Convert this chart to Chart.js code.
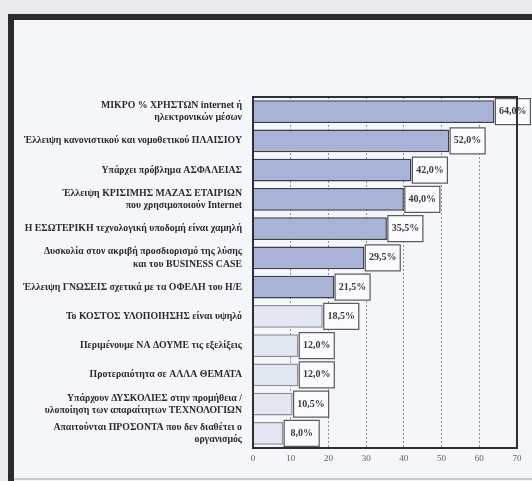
<!DOCTYPE html>
<html>
<head>
<meta charset="utf-8">
<script src="https://cdn.jsdelivr.net/npm/chart.js@4"></script>
<style>
  html, body { margin: 0; padding: 0; background: #e9ebef; }
  #wrap { position: relative; width: 532px; height: 481px; }
  #chart { position: absolute; left: 0; top: 0; }
</style>
</head>
<body>
<div id="wrap"><canvas id="chart" width="532" height="481"></canvas></div>
<script>
'use strict';

var categories = [
    ['ΜΙΚΡΟ % ΧΡΗΣΤΩΝ internet ή', 'ηλεκτρονικών μέσων'],
    'Έλλειψη κανονιστικού και νομοθετικού ΠΛΑΙΣΙΟΥ',
    'Υπάρχει πρόβλημα ΑΣΦΑΛΕΙΑΣ',
    ['Έλλειψη ΚΡΙΣΙΜΗΣ ΜΑΖΑΣ ΕΤΑΙΡΙΩΝ', 'που χρησιμοποιούν Internet'],
    'Η ΕΣΩΤΕΡΙΚΗ τεχνολογική υποδομή είναι χαμηλή',
    ['Δυσκολία στον ακριβή προσδιορισμό της λύσης', 'και του BUSINESS CASE'],
    'Έλλειψη ΓΝΩΣΕΙΣ σχετικά με τα ΟΦΕΛΗ του Η/Ε',
    'Το ΚΟΣΤΟΣ ΥΛΟΠΟΙΗΣΗΣ είναι υψηλό',
    'Περιμένουμε ΝΑ ΔΟΥΜΕ τις εξελίξεις',
    'Προτεραιότητα σε ΑΛΛΑ ΘΕΜΑΤΑ',
    ['Υπάρχουν ΔΥΣΚΟΛΙΕΣ στην προμήθεια /', 'υλοποίηση των απαραίτητων ΤΕΧΝΟΛΟΓΙΩΝ'],
    ['Απαιτούνται ΠΡΟΣΟΝΤΑ που δεν διαθέτει ο', 'οργανισμός']
];
var percentages = [64.0, 52.0, 42.0, 40.0, 35.5, 29.5, 21.5, 18.5, 12.0, 12.0, 10.5, 8.0];
var xTicks = [0, 10, 20, 30, 40, 50, 60, 70];

var serif = '"Liberation Serif", "DejaVu Serif", serif';
var darkBars = 7;
var barColors = percentages.map((v, i) => i < darkBars ? '#a9b2d7' : '#e3e7f1');
var barBorders = percentages.map((v, i) => i < darkBars ? '#3a3d4a' : '#8a8f9c');

// thick scanned frame around the whole figure
var framePlugin = {
    id: 'frame',
    beforeDraw: function (chart) {
        var ctx = chart.ctx;
        ctx.save();
        ctx.fillStyle = '#f5f6fa';
        ctx.fillRect(11, 17, 532, 481);
        ctx.fillStyle = '#2b2b2e';
        ctx.fillRect(8, 14, 532, 6);
        ctx.fillRect(8, 14, 6, 481);
        ctx.fillStyle = '#c9ccd3';
        ctx.fillRect(14, 478, 532, 2);
        ctx.restore();
    },
    afterDraw: function (chart) {
        var a = chart.chartArea;
        var ctx = chart.ctx;
        ctx.save();
        ctx.strokeStyle = '#2e2e33';
        ctx.lineWidth = 2;
        ctx.strokeRect(a.left, a.top, a.right - a.left, a.bottom - a.top);
        ctx.restore();
    }
};

// percentage value in a small box at the end of each bar
var valueBoxes = {
    id: 'valueBoxes',
    afterDatasetsDraw: function (chart) {
        var ctx = chart.ctx;
        var meta = chart.getDatasetMeta(0);
        ctx.save();
        ctx.font = 'bold 10px ' + serif;
        ctx.textBaseline = 'middle';
        ctx.textAlign = 'center';
        meta.data.forEach((bar, i) => {
            var w = 35, h = 26;
            var x = bar.x + 1;
            var y = bar.y - h / 2;
            ctx.fillStyle = '#fbfbfd';
            ctx.fillRect(x, y, w, h);
            ctx.strokeStyle = '#55585f';
            ctx.lineWidth = 1.2;
            ctx.strokeRect(x, y, w, h);
            ctx.fillStyle = '#3a3a40';
            ctx.fillText(percentages[i].toFixed(1).replace('.', ',') + '%', x + w / 2, bar.y);
        });
        ctx.restore();
    }
};

new Chart(document.getElementById('chart'), {
    type: 'bar',
    data: {
        labels: categories,
        datasets: [{
            data: percentages,
            backgroundColor: barColors,
            borderColor: barBorders,
            borderWidth: 1.5,
            barPercentage: 0.78,
            categoryPercentage: 1.0
        }]
    },
    options: {
        indexAxis: 'y',
        responsive: false,
        animation: false,
        layout: { padding: { left: 0, right: 15, top: 97, bottom: 13 } },
        plugins: {
            legend: { display: false },
            tooltip: { enabled: false }
        },
        scales: {
            x: {
                min: 0,
                max: 70,
                afterBuildTicks: axis => { axis.ticks = xTicks.map(v => ({ value: v })); },
                afterFit: axis => { axis.height = 20; },
                grid: {
                    color: '#8d9099',
                    lineWidth: 1,
                    drawTicks: false
                },
                border: { display: false, dash: [2, 2] },
                ticks: {
                    color: '#5d6068',
                    padding: 5,
                    font: { family: serif, size: 9 }
                }
            },
            y: {
                afterFit: axis => { axis.width = 253; },
                grid: { display: false },
                border: { display: false },
                ticks: {
                    color: '#2a2a30',
                    padding: 3,
                    autoSkip: false,
                    font: { family: serif, size: 9.8, weight: 'bold', lineHeight: 1.25 }
                }
            }
        }
    },
    plugins: [framePlugin, valueBoxes]
});
</script>
</body>
</html>
